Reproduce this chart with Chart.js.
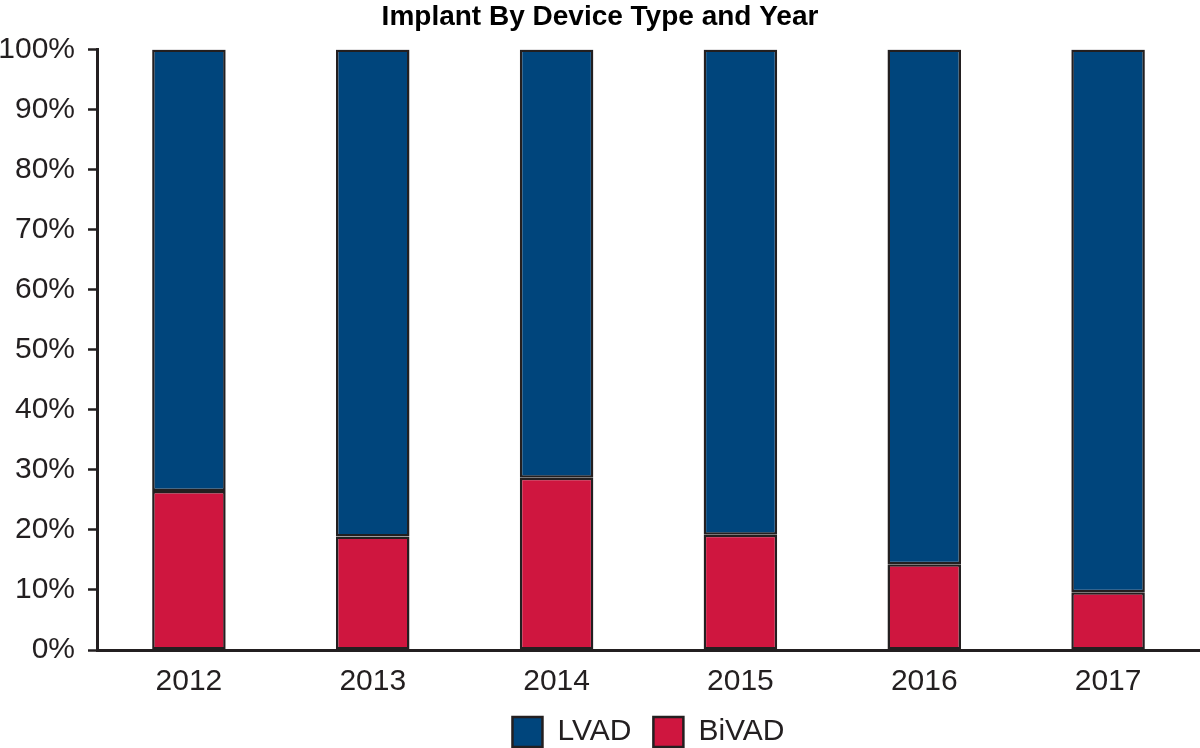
<!DOCTYPE html>
<html>
<head>
<meta charset="utf-8">
<script src="https://cdn.jsdelivr.net/npm/chart.js@4"></script>
<style>
  body { margin: 0; background: #fff; }
  #wrap { width: 1200px; height: 748px; }
</style>
</head>
<body>
<div id="wrap"><canvas id="chart1"></canvas></div>
<script>
var years = ['2012', '2013', '2014', '2015', '2016', '2017']
var bivad = [26.5, 18.9, 28.7, 19.2, 14.3, 9.6]
var lvad = [73.5, 81.1, 71.3, 80.8, 85.7, 90.4]
var yTicks = [0, 10, 20, 30, 40, 50, 60, 70, 80, 90, 100]

var dark = '#231f20'
var font = 'Liberation Sans, Arial, Helvetica, sans-serif'

// BiVAD first so it sits at the bottom of each stack
var data1 = {
  labels: years,
  datasets: [
    {
      label: 'BiVAD',
      data: bivad,
      backgroundColor: '#cf163f',
      borderColor: dark,
      borderWidth: 2.5,
      borderSkipped: false,
      barPercentage: 0.4,
      categoryPercentage: 1
    },
    {
      label: 'LVAD',
      data: lvad,
      backgroundColor: '#00457c',
      borderColor: dark,
      borderWidth: 2.5,
      borderSkipped: false,
      barPercentage: 0.4,
      categoryPercentage: 1
    }
  ]
}

// legend sits tight against the bottom edge, so cap its height
var legendHeight = {
  id: 'legendHeight',
  beforeLayout: function (chart) {
    var lg = chart.legend
    if (lg && !lg._capped) {
      var fit = lg.fit
      lg.fit = function () {
        fit.call(this)
        this.height = 53
      }
      lg._capped = true
    }
  }
}

var options = {
  responsive: true,
  maintainAspectRatio: false,
  animation: false,
  layout: { padding: 0 },
  plugins: {
    title: {
      display: true,
      text: 'Implant By Device Type and Year',
      color: '#000',
      font: { family: font, size: 28, weight: 'bold' },
      padding: { top: 0, bottom: 16 }
    },
    legend: {
      position: 'bottom',
      fullSize: false,
      reverse: true,
      labels: {
        color: dark,
        font: { family: font, size: 30 },
        boxWidth: 30,
        boxHeight: 30,
        padding: 22,
        generateLabels: function (chart) {
          return chart.data.datasets.map(function (ds, i) {
            return {
              text: ds.label,
              fillStyle: ds.backgroundColor,
              strokeStyle: dark,
              lineWidth: 2.5,
              fontColor: dark,
              datasetIndex: i,
              hidden: false
            }
          })
        }
      }
    },
    tooltip: { enabled: false }
  },
  scales: {
    x: {
      stacked: true,
      afterFit: function (axis) { axis.height = 45 },
      grid: { display: true, drawOnChartArea: false, drawTicks: false },
      border: { color: dark, width: 3 },
      ticks: {
        color: dark,
        font: { family: font, size: 30 },
        padding: 14
      }
    },
    y: {
      stacked: true,
      min: 0,
      max: 100,
      afterBuildTicks: function (axis) {
        axis.ticks = yTicks.map(function (v) { return { value: v } })
      },
      afterFit: function (axis) { axis.width = 97 },
      grid: {
        display: true,
        drawOnChartArea: false,
        drawTicks: true,
        tickLength: 9,
        tickColor: dark,
        tickWidth: 2.5
      },
      border: { color: dark, width: 3 },
      ticks: {
        color: dark,
        font: { family: font, size: 30 },
        padding: 13,
        callback: function (v) { return v + '%' }
      }
    }
  }
}

var ctx1 = document.getElementById('chart1').getContext('2d')
var myChart1 = new Chart(ctx1, {
  type: 'bar',
  data: data1,
  options: options,
  plugins: [legendHeight]
})
</script>
</body>
</html>
